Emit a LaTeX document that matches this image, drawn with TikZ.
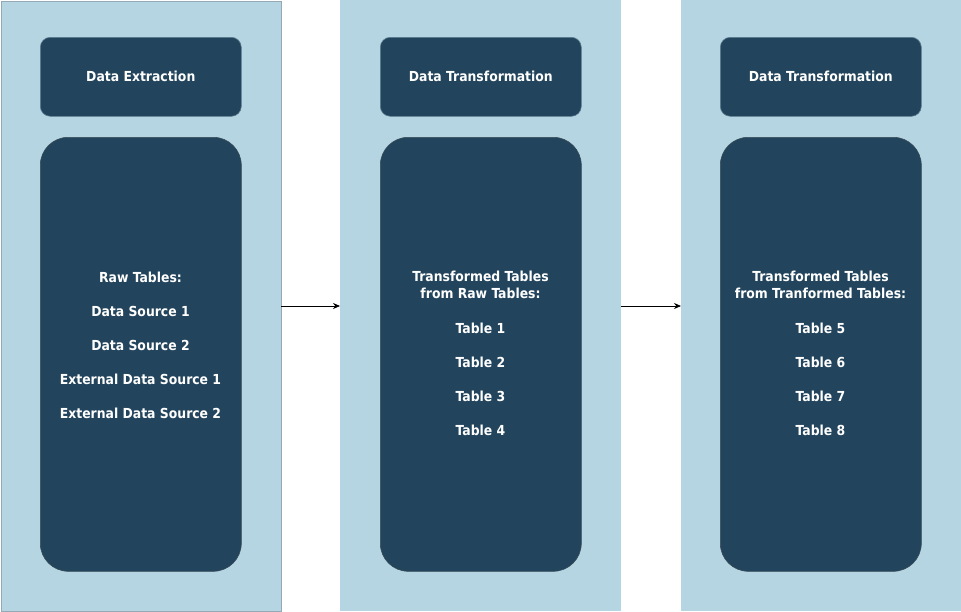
\documentclass[tikz,border=0pt]{standalone}
\usepackage{fontspec}
\setmainfont{DejaVu Sans Condensed}[BoldFont={DejaVu Sans Condensed Bold}]
\usetikzlibrary{arrows.meta}
\definecolor{lightcol}{HTML}{B6D5E2}
\definecolor{darkbox}{HTML}{22445C}
\definecolor{colborder}{HTML}{94A9B5}
\definecolor{boxborder}{HTML}{5E7E90}
\tikzset{
  column/.style={fill=lightcol, draw=none, minimum width=281pt, minimum height=611pt, inner sep=0pt, anchor=north west},
  titlebox/.style={fill=darkbox, draw=boxborder, line width=0.6pt, rounded corners=10pt, minimum width=201pt, minimum height=79pt, inner sep=0pt, anchor=north west, text=white, font=\bfseries\fontsize{13.8}{17}\selectfont},
  bigbox/.style={fill=darkbox, draw=boxborder!60!black, line width=0.6pt, rounded corners=28pt, minimum width=201pt, minimum height=434pt, inner sep=0pt, anchor=north west},
  bodytext/.style={text=white, align=center, anchor=north, inner sep=0pt, font=\bfseries\fontsize{13.8}{17}\selectfont},
  flow/.style={-{Stealth[length=7pt,width=6pt]}, line width=0.7pt, black}
}
\begin{document}
\begin{tikzpicture}[x=1pt,y=-1pt]
\useasboundingbox (0,0) rectangle (961,611);
% columns
\node[column, draw=colborder, line width=0.8pt, minimum width=280pt, minimum height=610pt] (c1) at (0.5,0.5) {};
\node[column] (c2) at (340,0) {};
\node[column, minimum width=280pt] (c3) at (681,0) {};
% title boxes
\node[titlebox] (t1) at (40,37) {Data Extraction};
\node[titlebox] (t2) at (380,37) {Data Transformation};
\node[titlebox] (t3) at (720,37) {Data Transformation};
% big boxes
\node[bigbox] (b1) at (40,137) {};
\node[bigbox] (b2) at (380,137) {};
\node[bigbox] (b3) at (720,137) {};
% texts
\node[bodytext] (x1) at (140.5,272) {Raw Tables:\\[17pt] Data Source 1\\[17pt] Data Source 2\\[17pt] External Data Source 1\\[17pt] External Data Source 2};
\node[bodytext] (x2) at (480.5,271) {Transformed Tables\\ from Raw Tables:\\[18pt] Table 1\\[17pt] Table 2\\[17pt] Table 3\\[17pt] Table 4};
\node[bodytext] (x3) at (820.5,271) {Transformed Tables\\ from Tranformed Tables:\\[18pt] Table 5\\[17pt] Table 6\\[17pt] Table 7\\[17pt] Table 8};
% arrows
\draw[flow] (281,306) coordinate (a1) -- (c2.west |- a1);
\draw[flow] (c2.east |- a1) -- (c3.west |- a1);
\end{tikzpicture}
\end{document}
